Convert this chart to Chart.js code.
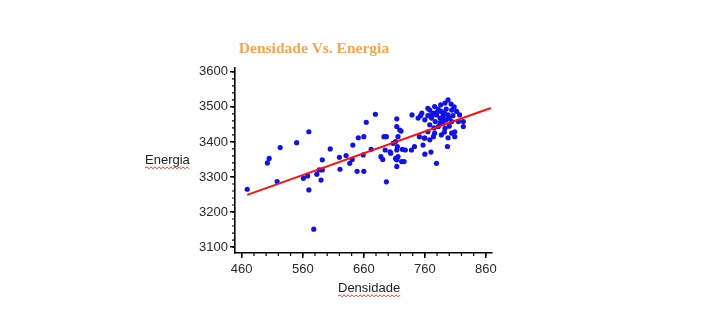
<!DOCTYPE html>
<html>
<head>
<meta charset="utf-8">
<script src="https://cdn.jsdelivr.net/npm/chart.js@4/dist/chart.umd.min.js"></script>
<style>
  html, body { margin: 0; padding: 0; background: #ffffff; }
  #wrap { width: 720px; height: 324px; }
</style>
</head>
<body>
<div id="wrap"><canvas id="c" width="720" height="324"></canvas></div>
<script>
// Densidade (x) and Energia (y) of each sample
const densidade = [
  469, 502, 505, 518, 523, 550, 561, 568, 570, 570, 578, 583, 587, 590, 592, 592,
  605, 620, 621, 631, 637, 641, 642, 649, 651, 659, 660, 660, 664, 672, 679, 688,
  691, 693, 695, 697, 697, 703, 704, 708, 712, 712, 714, 714, 714, 714, 714, 715,
  716, 716, 719, 721, 722, 723, 726, 728, 738, 739, 743, 749, 751, 753, 755, 757,
  759, 760, 760, 760, 765, 765, 765, 768, 768, 768, 770, 771, 771, 774, 774, 776,
  776, 777, 779, 779, 782, 782, 785, 786, 787, 787, 790, 790, 792, 793, 793, 795,
  795, 797, 798, 798, 798, 803, 804, 804, 804, 806, 808, 809, 809, 812, 815, 817,
  823, 823, 780, 790, 800, 785, 775, 800, 792
];
const energia = [
  3265, 3340, 3353, 3287, 3384, 3398, 3296, 3303, 3429, 3263, 3151, 3308, 3320, 3291, 3320, 3349,
  3380, 3356, 3322, 3361, 3339, 3350, 3391, 3316, 3412, 3363, 3415, 3316, 3456, 3379, 3479, 3358,
  3350, 3415, 3377, 3286, 3415, 3372, 3368, 3396, 3401, 3353, 3466, 3444, 3377, 3349, 3330, 3387,
  3358, 3415, 3434, 3431, 3344, 3379, 3344, 3377, 3377, 3477, 3387, 3468, 3415, 3475, 3482, 3391,
  3411, 3365, 3463, 3411, 3496, 3475, 3429, 3406, 3491, 3449, 3371, 3477, 3468, 3482, 3415, 3501,
  3425, 3458, 3339, 3477, 3494, 3444, 3468, 3506, 3487, 3420, 3475, 3453, 3428, 3511, 3439, 3494,
  3463, 3387, 3520, 3477, 3412, 3508, 3491, 3458, 3425, 3475, 3500, 3429, 3415, 3487, 3458, 3477,
  3458, 3444, 3485, 3465, 3468, 3455, 3440, 3445, 3482
];

// Fitted trend line (start and end)
const fitX = [469, 868];
const fitY = [3249, 3497];

// Axis tick labels
const xTicks = [460, 560, 660, 760, 860];
const yTicks = [3100, 3200, 3300, 3400, 3500, 3600];

const points = densidade.map((d, i) => ({ x: d, y: energia[i] }));
const fitPoints = fitX.map((d, i) => ({ x: d, y: fitY[i] }));

const TICK_FONT = { family: 'Liberation Sans, Arial, sans-serif', size: 13 };

// Wavy spell-check style underline
function wavy(ctx, x0, x1, y) {
  ctx.save();
  ctx.strokeStyle = '#e8322f';
  ctx.lineWidth = 1;
  ctx.beginPath();
  let up = true;
  ctx.moveTo(x0, y);
  for (let x = x0 + 2; x <= x1; x += 2) {
    ctx.lineTo(x, up ? y - 1.2 : y + 0.8);
    up = !up;
  }
  ctx.stroke();
  ctx.restore();
}

const decorations = {
  id: 'decorations',
  afterDraw(chart) {
    const ctx = chart.ctx;
    const xs = chart.scales.x, ys = chart.scales.y;
    ctx.save();
    // minor ticks
    ctx.strokeStyle = '#000';
    ctx.lineWidth = 1.2;
    ctx.beginPath();
    for (let v = 460; v <= xs.max; v += 20) {
      if (v < xs.min) continue;
      const px = xs.getPixelForValue(v);
      ctx.moveTo(px, xs.top);
      ctx.lineTo(px, xs.top + 3);
    }
    for (let v = 3100; v <= ys.max; v += 20) {
      if (v < ys.min) continue;
      const py = ys.getPixelForValue(v);
      ctx.moveTo(ys.right, py);
      ctx.lineTo(ys.right - 3, py);
    }
    ctx.stroke();

    // chart title
    ctx.fillStyle = '#f8a54f';
    ctx.font = 'bold 15.5px "Liberation Serif", "Times New Roman", serif';
    ctx.textAlign = 'center';
    ctx.textBaseline = 'middle';
    ctx.fillText('Densidade Vs. Energia', 314, 49);

    // axis titles
    ctx.fillStyle = '#222';
    ctx.font = '13px "Liberation Sans", Arial, sans-serif';
    ctx.textAlign = 'left';
    ctx.fillText('Energia', 145, 160);
    const wE = ctx.measureText('Energia').width;
    wavy(ctx, 145, 145 + wE, 168);
    ctx.fillText('Densidade', 338, 288);
    const wD = ctx.measureText('Densidade').width;
    wavy(ctx, 338, 338 + wD, 296);
    ctx.restore();
  }
};

new Chart(document.getElementById('c'), {
  type: 'scatter',
  data: {
    datasets: [
      {
        label: 'Amostras',
        data: points,
        backgroundColor: '#1212e6',
        borderWidth: 0,
        pointRadius: 2.6,
        order: 2
      },
      {
        type: 'line',
        label: 'Tendência',
        data: fitPoints,
        borderColor: '#ff1010',
        borderWidth: 2,
        pointRadius: 0,
        fill: false,
        order: 1
      }
    ]
  },
  options: {
    responsive: false,
    animation: false,
    devicePixelRatio: 1,
    layout: { padding: { left: 190, right: 228, top: 68, bottom: 46 } },
    plugins: {
      legend: { display: false },
      title: { display: false },
      tooltip: { enabled: false }
    },
    scales: {
      x: {
        type: 'linear',
        min: 449,
        max: 870,
        afterBuildTicks: s => { s.ticks = xTicks.map(v => ({ value: v })); },
        afterFit: s => { s.height = 25; },
        ticks: { font: TICK_FONT, color: '#2a2a2a', padding: 4, maxRotation: 0, autoSkip: false, callback: v => String(v) },
        grid: { display: true, drawOnChartArea: false, drawTicks: true, tickLength: 5, color: '#000', lineWidth: 1.5 },
        border: { display: true, color: '#000', width: 1.6 }
      },
      y: {
        type: 'linear',
        min: 3083,
        max: 3611,
        afterBuildTicks: s => { s.ticks = yTicks.map(v => ({ value: v })); },
        afterFit: s => { s.width = 45; },
        ticks: { font: TICK_FONT, color: '#2a2a2a', padding: 2, autoSkip: false, callback: v => String(v) },
        grid: { display: true, drawOnChartArea: false, drawTicks: true, tickLength: 5, color: '#000', lineWidth: 1.5 },
        border: { display: true, color: '#000', width: 1.6 }
      }
    }
  },
  plugins: [decorations]
});
</script>
</body>
</html>
